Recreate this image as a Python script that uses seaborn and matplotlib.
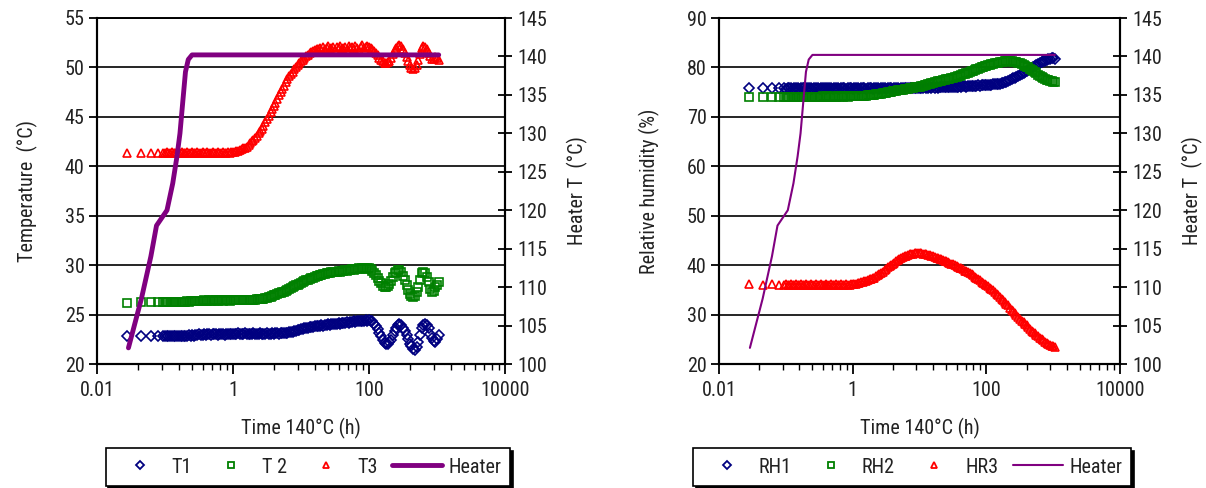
import matplotlib
matplotlib.use("Agg")
import matplotlib.pyplot as plt
from matplotlib import font_manager
from matplotlib.ticker import FixedLocator, FixedFormatter, NullFormatter
from matplotlib.lines import Line2D
import seaborn as sns
import pandas as pd

# ---------------- data ----------------
time_h = [0.028, 0.045, 0.062, 0.078, 0.095,
          0.10, 0.106, 0.112, 0.119, 0.126, 0.134, 0.142, 0.15, 0.16, 0.17,
          0.18, 0.19, 0.2, 0.21, 0.225, 0.24, 0.25, 0.265, 0.28, 0.3,
          0.32, 0.34, 0.36, 0.38, 0.4, 0.42, 0.45, 0.48, 0.5, 0.53,
          0.56, 0.6, 0.63, 0.67, 0.71, 0.75, 0.8, 0.85, 0.9, 0.95,
          1.0, 1.06, 1.12, 1.19, 1.26, 1.34, 1.42, 1.5, 1.6, 1.7,
          1.8, 1.9, 2.0, 2.1, 2.25, 2.4, 2.5, 2.65, 2.8, 3.0,
          3.2, 3.4, 3.6, 3.8, 4.0, 4.2, 4.5, 4.8, 5.0, 5.3,
          5.6, 6.0, 6.3, 6.7, 7.1, 7.5, 8.0, 8.5, 9.0, 9.5,
          10, 10.6, 11.2, 11.9, 12.6, 13.4, 14.2, 15, 16, 17,
          18, 19, 20, 21, 22.5, 24, 25, 26.5, 28, 30,
          32, 34, 36, 38, 40, 42, 45, 48, 50, 53,
          56, 60, 63, 67, 71, 75, 80, 85, 90, 95,
          100, 106, 112, 119, 126, 134, 142, 150, 160, 170,
          180, 190, 200, 210, 225, 240, 250, 265, 280, 300,
          320, 340, 360, 380, 400, 420, 450, 480, 500, 530,
          560, 600, 630, 670, 710, 750, 800, 850, 900, 950,
          1000, 1060]

T1 = [22.8, 22.8, 22.8, 22.8, 22.8,
      22.8, 22.8, 22.8, 22.8, 22.8, 22.8, 22.8, 22.8, 22.8, 22.8,
      22.8, 22.8, 22.8, 22.8, 22.9, 22.8, 22.9, 22.8, 22.9, 22.9,
      23.0, 22.9, 22.9, 23.0, 22.9, 23.0, 23.0, 22.9, 23.0, 23.0,
      23.0, 22.9, 23.0, 23.0, 23.0, 22.9, 23.0, 23.0, 23.0, 23.0,
      23.0, 23.0, 23.0, 23.1, 23.0, 23.0, 23.0, 23.1, 23.0, 23.0,
      23.0, 23.0, 23.1, 23.0, 23.0, 23.0, 23.1, 23.0, 23.0, 23.0,
      23.1, 23.0, 23.0, 23.1, 23.0, 23.1, 23.1, 23.0, 23.1, 23.1,
      23.1, 23.1, 23.1, 23.2, 23.2, 23.2, 23.3, 23.3, 23.4, 23.4,
      23.5, 23.5, 23.6, 23.6, 23.6, 23.7, 23.7, 23.7, 23.8, 23.8,
      23.8, 23.8, 23.9, 23.8, 23.9, 23.9, 24.0, 23.9, 24.0, 24.0,
      24.0, 24.0, 24.1, 24.0, 24.1, 24.1, 24.1, 24.2, 24.1, 24.2,
      24.2, 24.3, 24.2, 24.3, 24.3, 24.4, 24.3, 24.4, 24.5, 24.4,
      24.5, 24.4, 24.3, 24.0, 23.8, 23.5, 23.1, 22.8, 22.4, 22.1,
      22.0, 22.0, 22.2, 22.4, 22.9, 23.3, 23.6, 23.9, 24.0, 23.9,
      23.6, 23.3, 22.9, 22.5, 22.0, 21.8, 21.5, 21.4, 21.7, 22.2,
      22.9, 23.6, 23.9, 24.0, 23.9, 23.6, 23.0, 22.6, 22.3, 22.2,
      22.5, 22.9]

T2 = [26.2, 26.3, 26.3, 26.3, 26.3,
      26.3, 26.3, 26.3, 26.3, 26.3, 26.3, 26.3, 26.3, 26.3, 26.3,
      26.3, 26.3, 26.3, 26.4, 26.3, 26.4, 26.4, 26.4, 26.4, 26.4,
      26.4, 26.4, 26.4, 26.5, 26.4, 26.4, 26.5, 26.4, 26.5, 26.4,
      26.5, 26.4, 26.5, 26.5, 26.4, 26.5, 26.5, 26.5, 26.4, 26.5,
      26.5, 26.5, 26.5, 26.5, 26.5, 26.5, 26.5, 26.5, 26.5, 26.5,
      26.5, 26.5, 26.5, 26.5, 26.6, 26.6, 26.6, 26.6, 26.6, 26.7,
      26.7, 26.8, 26.8, 26.9, 27.0, 27.0, 27.1, 27.2, 27.2, 27.3,
      27.3, 27.4, 27.5, 27.6, 27.7, 27.8, 27.9, 28.0, 28.0, 28.1,
      28.2, 28.3, 28.4, 28.5, 28.5, 28.6, 28.7, 28.7, 28.8, 28.9,
      28.9, 29.0, 29.0, 29.1, 29.1, 29.2, 29.2, 29.2, 29.3, 29.3,
      29.3, 29.3, 29.4, 29.3, 29.4, 29.4, 29.5, 29.4, 29.5, 29.5,
      29.6, 29.5, 29.6, 29.6, 29.7, 29.6, 29.7, 29.7, 29.6, 29.7,
      29.7, 29.6, 29.4, 29.2, 29.0, 28.7, 28.4, 28.2, 27.9, 27.8,
      27.8, 27.9, 28.1, 28.4, 28.8, 29.2, 29.3, 29.5, 29.5, 29.3,
      28.9, 28.5, 28.0, 27.5, 27.1, 26.9, 26.8, 26.9, 27.3, 27.8,
      28.5, 29.2, 29.3, 29.2, 28.8, 28.3, 27.6, 27.3, 27.4, 27.8,
      28.0, 28.3]

T3 = [41.3, 41.3, 41.3, 41.3, 41.3,
      41.3, 41.4, 41.3, 41.3, 41.4, 41.3, 41.3, 41.4, 41.3, 41.3,
      41.4, 41.3, 41.3, 41.4, 41.3, 41.3, 41.4, 41.3, 41.3, 41.4,
      41.3, 41.3, 41.4, 41.3, 41.3, 41.4, 41.3, 41.3, 41.4, 41.3,
      41.3, 41.4, 41.3, 41.3, 41.4, 41.3, 41.3, 41.4, 41.3, 41.4,
      41.4, 41.4, 41.5, 41.5, 41.6, 41.7, 41.8, 41.9, 42.0, 42.2,
      42.4, 42.6, 42.7, 42.9, 43.1, 43.4, 43.6, 43.8, 44.1, 44.5,
      44.8, 45.1, 45.5, 45.8, 46.1, 46.4, 46.8, 47.2, 47.5, 47.8,
      48.1, 48.5, 48.8, 49.1, 49.3, 49.5, 49.8, 50.0, 50.2, 50.4,
      50.6, 50.8, 51.0, 51.2, 51.3, 51.5, 51.6, 51.7, 51.8, 51.9,
      51.9, 52.0, 51.8, 52.1, 51.9, 52.0, 52.2, 51.9, 52.0, 52.1,
      51.8, 52.1, 52.0, 52.2, 51.9, 52.0, 52.1, 51.8, 52.2, 52.0,
      52.1, 51.9, 52.2, 52.0, 51.8, 52.1, 52.3, 52.0, 52.1, 52.2,
      52.1, 52.0, 51.9, 51.7, 51.5, 51.3, 51.0, 50.8, 50.6, 50.4,
      50.4, 50.5, 50.7, 51.0, 51.4, 51.8, 52.0, 52.2, 52.3, 52.2,
      51.9, 51.5, 51.1, 50.6, 50.2, 49.9, 49.8, 49.9, 50.2, 50.8,
      51.4, 52.0, 52.2, 52.1, 51.9, 51.5, 51.2, 50.9, 50.9, 51.1,
      51.0, 50.8]

RH1 = [75.8, 75.8, 75.8, 75.9, 75.8,
       75.7, 75.9, 75.8, 75.9, 75.7, 75.8, 75.9, 75.8, 75.7, 75.9,
       75.8, 75.9, 75.7, 75.8, 75.9, 75.8, 75.7, 75.9, 75.8, 75.9,
       75.7, 75.8, 75.9, 75.8, 75.7, 75.9, 75.8, 75.9, 75.7, 75.8,
       75.9, 75.8, 75.7, 75.9, 75.8, 75.9, 75.7, 75.8, 75.9, 75.8,
       75.7, 75.9, 75.8, 75.9, 75.7, 75.8, 75.9, 75.8, 75.7, 75.9,
       75.8, 75.9, 75.7, 75.8, 75.9, 75.8, 75.7, 75.9, 75.8, 75.9,
       75.7, 75.8, 75.9, 75.8, 75.7, 75.9, 75.8, 75.9, 75.7, 75.8,
       75.9, 75.8, 75.8, 75.9, 75.8, 75.9, 75.8, 75.9, 75.9, 75.8,
       75.9, 75.8, 75.9, 76.0, 75.9, 75.9, 76.0, 75.9, 76.0, 75.9,
       76.0, 75.9, 76.0, 76.0, 76.1, 76.0, 76.0, 76.1, 76.0, 76.1,
       76.1, 76.0, 76.1, 76.1, 76.2, 76.1, 76.2, 76.2, 76.1, 76.2,
       76.2, 76.3, 76.2, 76.3, 76.3, 76.4, 76.3, 76.4, 76.4, 76.4,
       76.5, 76.4, 76.5, 76.5, 76.6, 76.6, 76.6, 76.7, 76.7, 76.8,
       76.8, 77.0, 77.1, 77.3, 77.5, 77.7, 77.8, 77.9, 78.0, 78.2,
       78.4, 78.6, 78.8, 79.0, 79.2, 79.4, 79.6, 79.9, 80.0, 80.3,
       80.5, 80.7, 80.9, 81.1, 81.2, 81.4, 81.5, 81.7, 81.8, 81.9,
       81.9, 81.8]

RH2 = [74.0, 74.1, 74.0, 74.1, 74.1,
       74.0, 74.1, 74.1, 74.0, 74.1, 74.1, 74.0, 74.1, 74.1, 74.0,
       74.1, 74.1, 74.0, 74.1, 74.1, 74.0, 74.1, 74.1, 74.1, 74.0,
       74.1, 74.1, 74.2, 74.1, 74.1, 74.2, 74.1, 74.1, 74.2, 74.1,
       74.1, 74.2, 74.1, 74.2, 74.1, 74.2, 74.2, 74.1, 74.2, 74.2,
       74.2, 74.2, 74.2, 74.2, 74.3, 74.3, 74.3, 74.3, 74.3, 74.4,
       74.4, 74.4, 74.4, 74.5, 74.6, 74.6, 74.7, 74.7, 74.8, 74.9,
       74.9, 75.0, 75.1, 75.1, 75.2, 75.2, 75.3, 75.4, 75.4, 75.5,
       75.5, 75.6, 75.7, 75.7, 75.8, 75.8, 75.9, 76.0, 76.0, 76.1,
       76.1, 76.2, 76.3, 76.4, 76.5, 76.6, 76.7, 76.8, 76.9, 77.0,
       77.1, 77.2, 77.2, 77.3, 77.4, 77.5, 77.6, 77.6, 77.7, 77.8,
       77.9, 78.0, 78.1, 78.2, 78.3, 78.4, 78.6, 78.7, 78.8, 78.9,
       79.0, 79.2, 79.3, 79.4, 79.6, 79.7, 79.8, 80.0, 80.1, 80.2,
       80.3, 80.4, 80.5, 80.6, 80.7, 80.8, 80.9, 80.9, 81.0, 81.1,
       81.1, 81.2, 81.2, 81.2, 81.2, 81.2, 81.1, 81.1, 81.0, 80.9,
       80.8, 80.6, 80.5, 80.3, 80.1, 80.0, 79.7, 79.4, 79.2, 79.0,
       78.8, 78.5, 78.3, 78.1, 77.9, 77.7, 77.5, 77.4, 77.3, 77.2,
       77.1, 77.0]

HR3 = [36.2, 36.0, 36.1, 36.0, 35.9,
       36.1, 36.0, 35.9, 36.1, 36.0, 36.0, 36.1, 35.9, 36.0, 36.1,
       36.0, 35.9, 36.1, 36.0, 36.0, 36.1, 35.9, 36.0, 36.1, 36.0,
       35.9, 36.1, 36.0, 36.0, 36.1, 35.9, 36.0, 36.1, 36.0, 35.9,
       36.1, 36.0, 36.0, 36.1, 35.9, 36.0, 36.1, 36.0, 36.0, 36.1,
       36.1, 36.2, 36.2, 36.3, 36.4, 36.5, 36.6, 36.7, 36.8, 36.9,
       37.1, 37.2, 37.4, 37.5, 37.8, 38.0, 38.2, 38.4, 38.7, 39.0,
       39.3, 39.6, 39.8, 40.1, 40.3, 40.5, 40.8, 41.0, 41.2, 41.4,
       41.6, 41.8, 41.9, 42.1, 42.2, 42.3, 42.3, 42.4, 42.4, 42.4,
       42.4, 42.4, 42.3, 42.3, 42.2, 42.1, 42.0, 41.9, 41.8, 41.6,
       41.5, 41.4, 41.3, 41.2, 41.1, 40.9, 40.8, 40.7, 40.5, 40.3,
       40.2, 40.0, 39.8, 39.7, 39.5, 39.4, 39.2, 38.9, 38.8, 38.6,
       38.4, 38.2, 38.0, 37.7, 37.5, 37.2, 36.9, 36.6, 36.4, 36.2,
       36.0, 35.7, 35.4, 35.2, 34.9, 34.5, 34.2, 33.9, 33.5, 33.2,
       32.9, 32.6, 32.2, 31.9, 31.4, 30.9, 30.7, 30.3, 30.0, 29.5,
       29.1, 28.8, 28.4, 28.1, 27.8, 27.5, 27.1, 26.7, 26.5, 26.2,
       25.9, 25.6, 25.3, 25.0, 24.8, 24.5, 24.3, 24.1, 23.9, 23.7,
       23.6, 23.5]

heater_time = [0.029, 0.045, 0.062, 0.075, 0.107, 0.13, 0.15, 0.166, 0.18,
               0.2, 0.22, 0.25, 1060]
heater_temp = [102.1, 108.5, 114.0, 118.0, 120.0, 123.5, 127.0, 130.0, 133.5,
               138.0, 139.6, 140.2, 140.2]

left_labels = ["T1", "T 2", "T3", "Heater"]
right_labels = ["RH1", "RH2", "HR3", "Heater"]
x_major = [0.01, 1, 100, 10000]
x_major_labels = ["0.01", "1", "100", "10000"]
left_yticks = [20, 25, 30, 35, 40, 45, 50, 55]
right_yticks = [20, 30, 40, 50, 60, 70, 80, 90]
heater_yticks = [100, 105, 110, 115, 120, 125, 130, 135, 140, 145]

# ---------------- style ----------------
sns.set_theme(style="ticks")


def pick_font():
    entries = font_manager.fontManager.ttflist
    names = {f.name for f in entries}
    for n in ["Liberation Sans Narrow", "Roboto Condensed", "Noto Sans Condensed",
              "Open Sans Condensed", "Arial Narrow"]:
        if n in names:
            return n, "normal"
    for fam in ["Noto Sans", "Roboto", "Open Sans", "Inter"]:
        for f in entries:
            if f.name == fam and f.style == "normal" and str(f.stretch) in (
                    "condensed", "semi-condensed", "extra-condensed"):
                return fam, str(f.stretch)
    return "Liberation Sans", "normal"


main_font, stretch = pick_font()
plt.rcParams["font.family"] = [main_font, "DejaVu Sans"]
plt.rcParams["font.stretch"] = stretch
FS = 14.5
TXT = "#222222"

NAVY = "#000080"
GREEN = "#008000"
RED = "#FF0000"
PURPLE = "#800080"

assert len(time_h) == len(T1) == len(T2) == len(T3) == len(RH1) == len(RH2) == len(HR3)
df = pd.DataFrame({"time": time_h, "T1": T1, "T2": T2, "T3": T3,
                   "RH1": RH1, "RH2": RH2, "HR3": HR3})
heater = pd.DataFrame({"time": heater_time, "heater": heater_temp})

fig = plt.figure(figsize=(12.06, 4.88), dpi=100)
W, H = 1206, 488


def box(x0, x1, y0, y1):
    return [x0 / W, 1 - y1 / H, (x1 - x0) / W, (y1 - y0) / H]


minor_pos = [d * k * k for d in (0.01, 1, 100) for k in range(2, 10)]


def panel(rect, cols, labels, ylim, yticks, ylabel, heater_lw, legend_x):
    ax = fig.add_axes(rect)
    styles = [("D", NAVY, 4.8), ("s", GREEN, 5.4), ("^", RED, 6.2)]
    for col, (mk, c, ms) in zip(cols, styles):
        sns.lineplot(data=df, x="time", y=col, ax=ax, estimator=None, sort=False,
                     linestyle="", marker=mk, markersize=ms, markerfacecolor="none",
                     markeredgecolor=c, markeredgewidth=1.2, color=c, legend=False)
    ax.set_xscale("log")
    ax.set_xlim(0.01, 10000)
    ax.set_ylim(*ylim)
    ax.yaxis.set_major_locator(FixedLocator(yticks))
    ax.xaxis.set_major_locator(FixedLocator(x_major))
    ax.xaxis.set_major_formatter(FixedFormatter(x_major_labels))
    ax.xaxis.set_minor_locator(FixedLocator(minor_pos))
    ax.xaxis.set_minor_formatter(NullFormatter())
    ax.yaxis.grid(True, color="black", linewidth=1.2)
    ax.set_axisbelow(True)
    for s in ax.spines.values():
        s.set_color("black")
        s.set_linewidth(1.5)
    ax.spines["top"].set_linewidth(1.2)
    ax.tick_params(axis="y", direction="out", length=6, width=1.3, color="black",
                   labelsize=FS, labelcolor=TXT, left=True, pad=3)
    ax.tick_params(axis="x", which="major", direction="out", length=7, width=1.3,
                   color="black", labelsize=FS, labelcolor=TXT, bottom=True, pad=5)
    ax.tick_params(axis="x", which="minor", direction="out", length=4, width=1.0,
                   color="black", bottom=True)
    ax.set_xlabel("Time 140°C (h)", fontsize=FS, color=TXT, labelpad=13)
    ax.set_ylabel(ylabel, fontsize=FS, color=TXT, labelpad=19)

    ax2 = ax.twinx()
    sns.lineplot(data=heater, x="time", y="heater", ax=ax2, estimator=None, sort=False,
                 color=PURPLE, linewidth=heater_lw, legend=False)
    ax2.set_ylim(100, 145)
    ax2.yaxis.set_major_locator(FixedLocator(heater_yticks))
    ax2.tick_params(axis="y", direction="inout", length=10, width=1.3, color="black",
                    labelsize=FS, labelcolor=TXT, right=True, pad=4)
    ax2.set_ylabel("Heater T  (°C)", fontsize=FS, color=TXT, labelpad=14)
    for s in ax2.spines.values():
        s.set_color("black")
        s.set_linewidth(1.5)
    ax2.spines["top"].set_linewidth(1.2)
    ax2.grid(False)

    handles = [
        Line2D([], [], ls="", marker="D", ms=4.2, mfc="none", mec=NAVY, mew=1.3),
        Line2D([], [], ls="", marker="s", ms=4.5, mfc="none", mec=GREEN, mew=1.3),
        Line2D([], [], ls="", marker="^", ms=5.0, mfc="none", mec=RED, mew=1.3),
        Line2D([], [], color=PURPLE, lw=heater_lw),
    ]
    leg = fig.legend(handles, labels, loc="center", bbox_to_anchor=(legend_x, 0.043),
                     ncol=4, frameon=True, fancybox=False, edgecolor="black",
                     framealpha=1, fontsize=FS, handlelength=2.5, handletextpad=0.3,
                     columnspacing=0.7, borderpad=0.45, borderaxespad=0,
                     shadow={"color": "black", "alpha": 1.0})
    leg.get_frame().set_linewidth(1.2)
    for t in leg.get_texts():
        t.set_color(TXT)
    return ax, ax2


panel(box(97, 505, 18, 364), ["T1", "T2", "T3"], left_labels, (20, 55), left_yticks,
      "Temperature  (°C)", 3.5, 308 / W)
panel(box(719, 1120, 18, 364), ["RH1", "RH2", "HR3"], right_labels, (20, 90), right_yticks,
      "Relative humidity (%)", 1.5, 912 / W)

fig.savefig("out.png", dpi=100)
